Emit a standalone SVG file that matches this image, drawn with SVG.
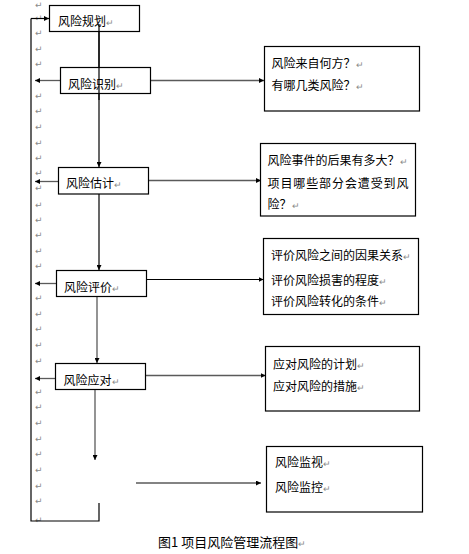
<svg xmlns="http://www.w3.org/2000/svg" width="469" height="554" viewBox="0 0 469 554">
<style>
  .box { fill: #fff; stroke: #000; stroke-width: 1.2; }
  .t { font-family: "Noto Sans CJK SC", "Liberation Sans", sans-serif; font-size: 12px; fill: #000; }
  .cap { font-family: "Noto Sans CJK SC", "Liberation Sans", sans-serif; font-size: 13px; fill: #000; }
  .pm { fill: #8a8a8a; font-size: 9px; }
  .pmc { font-family: "DejaVu Sans", sans-serif; font-size: 9px; fill: #8a8a8a; }
  .ln { stroke: #000; stroke-width: 1.2; fill: none; }
  .lg { stroke: #5a5a5a; stroke-width: 1.3; fill: none; }
</style>
<defs>
  <marker id="ah" viewBox="0 0 10 10" refX="10" refY="5" markerWidth="5" markerHeight="5" markerUnits="userSpaceOnUse" orient="auto">
    <path d="M0,0 L10,5 L0,10 z" fill="#000"/>
  </marker>
</defs>
<rect width="469" height="554" fill="#fff"/>

<g id="para-marks" class="pmc">
  <text x="35" y="8">↵</text>
  <text x="35" y="21">↵</text>
  <text x="35" y="36">↵</text>
  <text x="35" y="52">↵</text>
  <text x="35" y="67">↵</text>
  <text x="35" y="99">↵</text>
  <text x="35" y="114">↵</text>
  <text x="35" y="130">↵</text>
  <text x="35" y="146">↵</text>
  <text x="35" y="161">↵</text>
  <text x="35" y="176">↵</text>
  <text x="35" y="191">↵</text>
  <text x="35" y="208">↵</text>
  <text x="35" y="223">↵</text>
  <text x="35" y="238">↵</text>
  <text x="35" y="254">↵</text>
  <text x="35" y="269">↵</text>
  <text x="35" y="301">↵</text>
  <text x="35" y="317">↵</text>
  <text x="35" y="332">↵</text>
  <text x="35" y="348">↵</text>
  <text x="35" y="364">↵</text>
  <text x="35" y="395">↵</text>
  <text x="35" y="410">↵</text>
  <text x="35" y="426">↵</text>
  <text x="35" y="442">↵</text>
  <text x="35" y="457">↵</text>
  <text x="35" y="473">↵</text>
  <text x="35" y="489">↵</text>
  <text x="35" y="504">↵</text>
  <text x="35" y="523">↵</text>
</g>

<g id="connectors">
  <polyline class="ln" points="99,503 99,521 31,521 31,18.5"/>
  <line class="ln" x1="31" y1="18.5" x2="49" y2="18.5" marker-end="url(#ah)"/>
  <line class="ln" x1="99" y1="24" x2="99" y2="167" marker-end="url(#ah)"/>
  <line class="ln" x1="99" y1="194" x2="99" y2="270" marker-end="url(#ah)"/>
  <line class="lg" x1="97" y1="296" x2="97" y2="363" marker-end="url(#ah)"/>
  <line class="lg" x1="95" y1="389" x2="95" y2="460" marker-end="url(#ah)"/>
  <line class="lg" x1="60" y1="80.5" x2="35" y2="80.5" marker-end="url(#ah)"/>
  <line class="lg" x1="58" y1="181.5" x2="35" y2="181.5" marker-end="url(#ah)"/>
  <line class="lg" x1="56" y1="283.5" x2="35" y2="283.5" marker-end="url(#ah)"/>
  <line class="lg" x1="55" y1="378.5" x2="35" y2="378.5" marker-end="url(#ah)"/>
  <line class="lg" x1="150" y1="80.5" x2="264" y2="80.5" marker-end="url(#ah)"/>
  <line class="lg" x1="148" y1="180.5" x2="261" y2="180.5" marker-end="url(#ah)"/>
  <line class="ln" x1="146" y1="279.5" x2="263.5" y2="279.5" marker-end="url(#ah)"/>
  <line class="lg" x1="146" y1="375.5" x2="265.5" y2="375.5" marker-end="url(#ah)"/>
  <line class="lg" x1="136" y1="483" x2="261" y2="483" marker-end="url(#ah)"/>
</g>

<g id="node-plan">
  <rect class="box" x="49.5" y="5.5" width="90" height="26"/>
  <text class="t" x="58" y="26">风险规划<tspan class="pm">↵</tspan></text>
</g>
<g id="node-identify">
  <rect class="box" x="60.5" y="67.5" width="90" height="26"/>
  <text class="t" x="68" y="88.5">风险识别<tspan class="pm">↵</tspan></text>
</g>
<g id="node-estimate">
  <rect class="box" x="58.5" y="167.5" width="90" height="26.5"/>
  <text class="t" x="66" y="188">风险估计<tspan class="pm">↵</tspan></text>
</g>
<g id="node-evaluate">
  <rect class="box" x="56.5" y="270.5" width="90" height="26"/>
  <text class="t" x="64" y="291.5">风险评价<tspan class="pm">↵</tspan></text>
</g>
<g id="node-respond">
  <rect class="box" x="55.5" y="363.5" width="90" height="26"/>
  <text class="t" x="63.5" y="384.5">风险应对<tspan class="pm">↵</tspan></text>
</g>
<g id="through-line">
  <line class="ln" x1="99" y1="24" x2="99" y2="100"/>
</g>

<g id="detail-identify">
  <rect class="box" x="264.5" y="46.5" width="155" height="64.5"/>
  <text class="t" x="271.5" y="68">风险来自何方？<tspan class="pm">↵</tspan></text>
  <text class="t" x="271.5" y="89.5">有哪几类风险？<tspan class="pm">↵</tspan></text>
</g>
<g id="detail-estimate">
  <rect class="box" x="260.5" y="143.5" width="155" height="72.5"/>
  <text class="t" x="267.5" y="165">风险事件的后果有多大？<tspan class="pm">↵</tspan></text>
  <text class="t" x="267.5" y="188" textLength="141" lengthAdjust="spacing">项目哪些部分会遭受到风</text>
  <text class="t" x="267.5" y="209">险？<tspan class="pm">↵</tspan></text>
</g>
<g id="detail-evaluate">
  <rect class="box" x="263.5" y="238.5" width="155" height="76"/>
  <text class="t" x="271" y="259.5">评价风险之间的因果关系<tspan class="pm">↵</tspan></text>
  <text class="t" x="271" y="284.5">评价风险损害的程度<tspan class="pm">↵</tspan></text>
  <text class="t" x="271" y="306">评价风险转化的条件<tspan class="pm">↵</tspan></text>
</g>
<g id="detail-respond">
  <rect class="box" x="265.5" y="346.5" width="154" height="64.5"/>
  <text class="t" x="273" y="368.5">应对风险的计划<tspan class="pm">↵</tspan></text>
  <text class="t" x="273" y="391">应对风险的措施<tspan class="pm">↵</tspan></text>
</g>
<g id="detail-monitor">
  <rect class="box" x="266.5" y="446.5" width="156" height="65.5"/>
  <text class="t" x="275" y="467">风险监视<tspan class="pm">↵</tspan></text>
  <text class="t" x="275" y="492">风险监控<tspan class="pm">↵</tspan></text>
</g>

<g id="caption">
  <text class="cap" x="158" y="547">图1 项目风险管理流程图<tspan class="pm">↵</tspan></text>
</g>
</svg>
